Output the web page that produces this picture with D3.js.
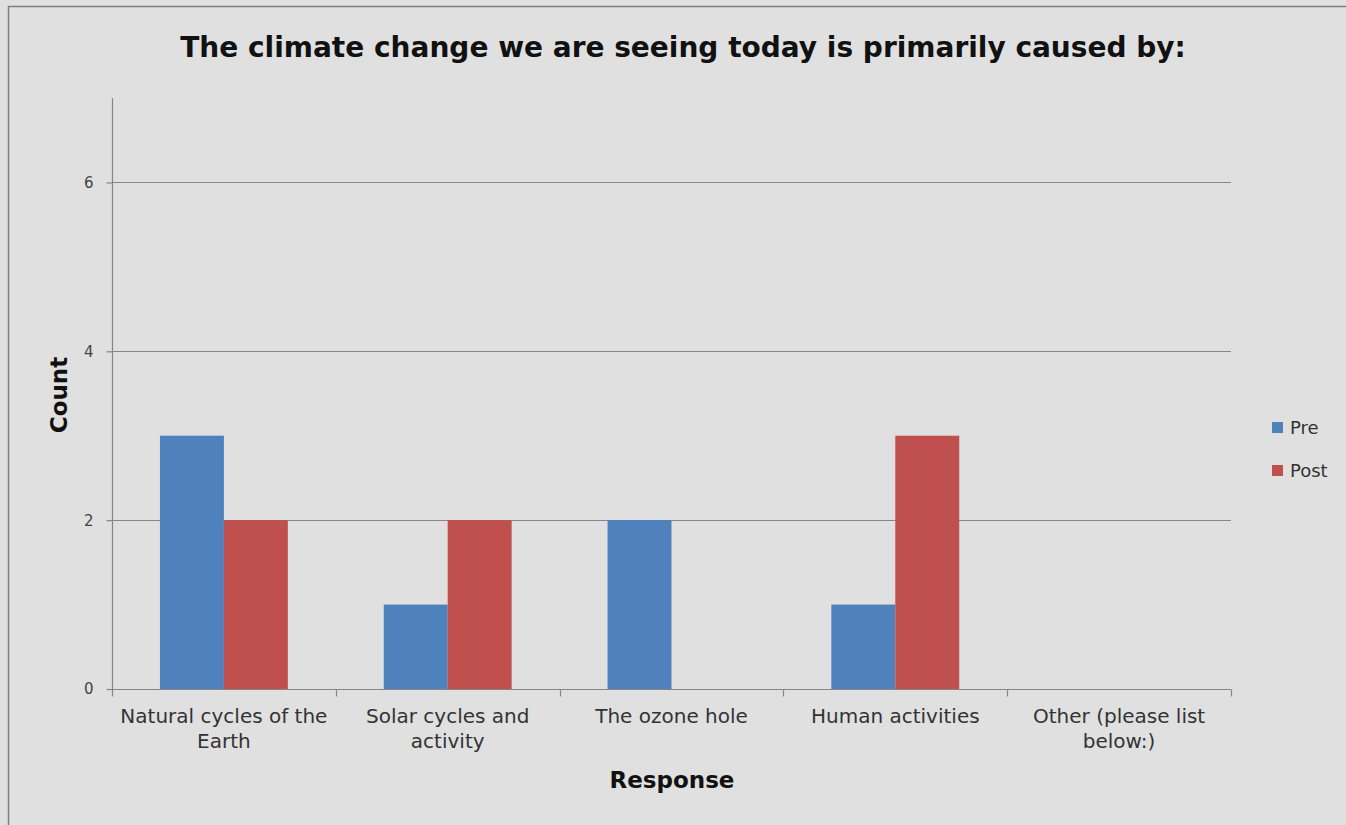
<!DOCTYPE html>
<html>
<head>
<meta charset="utf-8">
<script src="https://cdn.jsdelivr.net/npm/d3@7"></script>
<style>
  html, body { margin: 0; padding: 0; background: #e0e0e0; }
  svg { display: block; }
</style>
</head>
<body>
<svg id="chart" width="1346" height="825"></svg>
<script>
const categories = [
  ["Natural cycles of the", "Earth"],
  ["Solar cycles and", "activity"],
  ["The ozone hole"],
  ["Human activities"],
  ["Other (please list", "below:)"]
];
const seriesNames = ["Pre", "Post"];
const preValues  = [3, 1, 2, 1, 0];
const postValues = [2, 2, 0, 3, 0];
const yTicks = [0, 2, 4, 6];
const yMax = 7;
const colors = ["#4f81bd", "#c0504d"];
const titleText = "The climate change we are seeing today is primarily caused by:";
const xTitle = "Response";
const yTitle = "Count";

const svg = d3.select("#chart");
const font = "'DejaVu Sans', sans-serif";

// outer chart border
svg.append("rect").attr("x", 8.5).attr("y", 6.5).attr("width", 1400).attr("height", 900)
  .attr("fill", "#e0e0e0").attr("stroke", "#7f7f7f").attr("stroke-width", 1.5);

const plot = { left: 112, right: 1231, top: 98, bottom: 689 };

const x0 = d3.scaleBand().domain(d3.range(categories.length))
  .range([plot.left, plot.right]).paddingInner(0).paddingOuter(0);
const x1 = d3.scaleBand().domain(seriesNames)
  .range([0, x0.bandwidth()]).paddingInner(0).paddingOuter(0.75);
const y = d3.scaleLinear().domain([0, yMax]).range([plot.bottom, plot.top]);

// gridlines
svg.append("g").selectAll("line").data(yTicks.filter(d => d > 0)).join("line")
  .attr("x1", plot.left).attr("x2", plot.right)
  .attr("y1", d => Math.round(y(d)) + 0.5).attr("y2", d => Math.round(y(d)) + 0.5)
  .attr("stroke", "#878787").attr("stroke-width", 1.2);

// bars
const data = categories.map((c, i) => ({ i, values: [preValues[i], postValues[i]] }));
const groups = svg.append("g").selectAll("g").data(data).join("g")
  .attr("transform", d => `translate(${x0(d.i)},0)`);
groups.selectAll("rect").data(d => d.values.map((v, k) => ({ v, k }))).join("rect")
  .attr("x", d => x1(seriesNames[d.k]))
  .attr("width", x1.bandwidth())
  .attr("y", d => y(d.v))
  .attr("height", d => y(0) - y(d.v))
  .attr("fill", d => colors[d.k]);

// y axis
const yAxis = d3.axisLeft(y).tickValues(yTicks).tickFormat(d3.format("d")).tickSize(6).tickPadding(13);
const gy = svg.append("g").attr("transform", `translate(${plot.left + 0.5},0)`).call(yAxis);
gy.select(".domain").attr("stroke", "#868686").attr("stroke-width", 1.2)
  .attr("d", `M0,${plot.top}V${plot.bottom}`);
gy.selectAll(".tick line").attr("stroke", "#868686").attr("stroke-width", 1.2);
gy.selectAll(".tick text").attr("font-family", font).attr("font-size", 15)
  .attr("fill", "#444").attr("dy", "0.33em");

// x axis
const xAxis = d3.axisBottom(x0).tickSize(0).tickFormat("");
const gx = svg.append("g").attr("transform", `translate(0,${plot.bottom + 0.5})`).call(xAxis);
gx.select(".domain").attr("stroke", "#868686").attr("stroke-width", 1.2)
  .attr("d", `M${plot.left},0H${plot.right}`);
const boundaries = d3.range(categories.length + 1).map(i => i < categories.length ? x0(i) : plot.right);
gx.selectAll(".bound").data(boundaries).join("line").attr("class", "bound")
  .attr("x1", d => Math.round(d) + 0.5).attr("x2", d => Math.round(d) + 0.5)
  .attr("y1", 0).attr("y2", 7).attr("stroke", "#868686").attr("stroke-width", 1.2);

// category labels
const labels = svg.append("g").selectAll("text").data(categories).join("text")
  .attr("font-family", font).attr("font-size", 20).attr("fill", "#333")
  .attr("text-anchor", "middle")
  .attr("transform", (d, i) => `translate(${x0(i) + x0.bandwidth() / 2},${plot.bottom + 34})`);
labels.selectAll("tspan").data(d => d).join("tspan")
  .attr("x", 0).attr("y", (d, k) => k * 25).text(d => d);

// title
svg.append("text").attr("x", 683).attr("y", 57).attr("text-anchor", "middle")
  .attr("font-family", font).attr("font-weight", "bold").attr("font-size", 28)
  .attr("fill", "#111").text(titleText);

// axis titles
svg.append("text").attr("x", 672).attr("y", 788).attr("text-anchor", "middle")
  .attr("font-family", font).attr("font-weight", "bold").attr("font-size", 23)
  .attr("fill", "#111").text(xTitle);
svg.append("text").attr("transform", "translate(67,395) rotate(-90)").attr("text-anchor", "middle")
  .attr("font-family", font).attr("font-weight", "bold").attr("font-size", 23)
  .attr("fill", "#111").text(yTitle);

// legend
const legend = svg.append("g").selectAll("g").data(seriesNames).join("g")
  .attr("transform", (d, i) => `translate(1272,${428 + i * 43})`);
legend.append("rect").attr("x", 0).attr("y", -6).attr("width", 11).attr("height", 11)
  .attr("fill", (d, i) => colors[i]);
legend.append("text").attr("x", 18).attr("y", 0).attr("dy", "0.35em")
  .attr("font-family", font).attr("font-size", 18).attr("fill", "#333").text(d => d);
</script>
</body>
</html>
